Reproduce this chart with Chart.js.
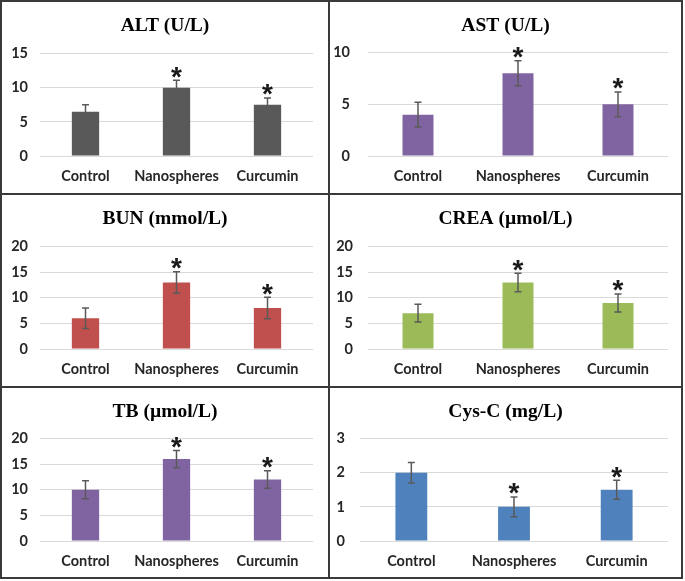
<!DOCTYPE html>
<html>
<head>
<meta charset="utf-8">
<script src="https://cdn.jsdelivr.net/npm/chart.js@4.4.1/dist/chart.umd.min.js"></script>
<style>
  body { margin: 0; background: #fff; }
  #page { position: relative; width: 685px; height: 581px; }
  .line { position: absolute; background: #3a3a3a; }
  .cell { position: absolute; }
</style>
</head>
<body>
<div id="page">
  <div class="line" style="left:0;top:0;width:683px;height:2px"></div>
  <div class="line" style="left:0;top:577px;width:683px;height:2px"></div>
  <div class="line" style="left:0;top:0;width:2px;height:579px"></div>
  <div class="line" style="left:681px;top:0;width:2px;height:579px"></div>
  <div class="line" style="left:328px;top:0;width:2px;height:579px"></div>
  <div class="line" style="left:0;top:193px;width:683px;height:2px"></div>
  <div class="line" style="left:0;top:386px;width:683px;height:2px"></div>

  <div class="cell" style="left:2px;top:2px;width:326px;height:191px"><canvas id="chart1"></canvas></div>
  <div class="cell" style="left:330px;top:2px;width:351px;height:191px"><canvas id="chart2"></canvas></div>
  <div class="cell" style="left:2px;top:195px;width:326px;height:191px"><canvas id="chart3"></canvas></div>
  <div class="cell" style="left:330px;top:195px;width:351px;height:191px"><canvas id="chart4"></canvas></div>
  <div class="cell" style="left:2px;top:388px;width:326px;height:189px"><canvas id="chart5"></canvas></div>
  <div class="cell" style="left:330px;top:388px;width:351px;height:189px"><canvas id="chart6"></canvas></div>
</div>
<script>
// Data
const groups = ['Control', 'Nanospheres', 'Curcumin'];
const significant = [false, true, true];

const altValues = [6.5, 10, 7.5];
const altErrors = [1, 1.1, 1];
const astValues = [4, 8, 5];
const astErrors = [1.2, 1.2, 1.2];
const bunValues = [6, 13, 8];
const bunErrors = [2, 2.1, 2.1];
const creaValues = [7, 13, 9];
const creaErrors = [1.75, 1.8, 1.75];
const tbValues = [10, 16, 12];
const tbErrors = [1.75, 1.7, 1.7];
const cysValues = [2, 1, 1.5];
const cysErrors = [0.3, 0.29, 0.28];

const grey = '#595959';
const purple = '#8064A2';
const red = '#C0504D';
const green = '#9BBB59';
const blue = '#4F81BD';

const labelFont = { family: "'Lato', 'Open Sans', sans-serif", size: 14.5, weight: 'bold' };
const titleFont = { family: "'Liberation Serif', 'Times New Roman', serif", size: 19.5, weight: 'bold' };

// error bars + significance stars, positioned through the y scale
const errorBars = {
    id: 'errorBars',
    afterDatasetsDraw(chart, args, opts) {
        const ctx = chart.ctx;
        const yScale = chart.scales.y;
        const values = chart.data.datasets[0].data;
        ctx.save();
        chart.getDatasetMeta(0).data.forEach((bar, i) => {
            const top = yScale.getPixelForValue(values[i] + opts.errors[i]);
            const bottom = yScale.getPixelForValue(values[i] - opts.errors[i]);
            ctx.strokeStyle = '#5a5a5a';
            ctx.lineWidth = 1.5;
            ctx.beginPath();
            ctx.moveTo(bar.x, top); ctx.lineTo(bar.x, bottom);
            ctx.moveTo(bar.x - 3.5, top); ctx.lineTo(bar.x + 3.5, top);
            ctx.moveTo(bar.x - 3.5, bottom); ctx.lineTo(bar.x + 3.5, bottom);
            ctx.stroke();
            if (opts.stars[i]) {
                ctx.font = "bold 28px 'Liberation Sans', Arial, sans-serif";
                ctx.fillStyle = '#1a1a1a';
                ctx.textAlign = 'center';
                ctx.textBaseline = 'alphabetic';
                const m = ctx.measureText('*');
                ctx.fillText('*', bar.x, top - 2.5 - m.actualBoundingBoxDescent);
            }
        });
        ctx.restore();
    }
};

function makePanel(id, cfg) {
    const ctx = document.getElementById(id).getContext('2d');
    new Chart(ctx, {
        type: 'bar',
        data: {
            labels: groups,
            datasets: [{
                data: cfg.values,
                backgroundColor: cfg.color,
                barPercentage: cfg.barPct,
                categoryPercentage: 1
            }]
        },
        options: {
            responsive: true,
            maintainAspectRatio: false,
            animation: false,
            layout: { padding: 0 },
            plugins: {
                legend: { display: false },
                tooltip: { enabled: false },
                title: {
                    display: true,
                    text: cfg.title,
                    color: '#000',
                    font: titleFont,
                    padding: { top: 12.6, bottom: cfg.top - 35.4 }
                },
                errorBars: { errors: cfg.errors, stars: significant }
            },
            scales: {
                x: {
                    grid: { display: false },
                    border: { display: false },
                    ticks: { color: '#262626', font: labelFont, padding: 4 },
                    afterFit(axis) { axis.height = cfg.xHeight; }
                },
                y: {
                    min: 0,
                    max: cfg.max,
                    ticks: { stepSize: cfg.step, color: '#262626', font: labelFont, padding: cfg.tickPad },
                    grid: { color: '#d9d9d9', drawTicks: false },
                    border: { display: false },
                    afterFit(axis) { axis.width = cfg.left; }
                },
                pad: {
                    position: 'right',
                    grid: { display: false },
                    border: { display: false },
                    ticks: { display: false },
                    afterFit(axis) { axis.width = cfg.right; }
                }
            }
        },
        plugins: [errorBars]
    });
}

makePanel('chart1', { title: 'ALT (U/L)', values: altValues, errors: altErrors, color: grey,
    max: 15, step: 5, top: 51, xHeight: 37, left: 38, right: 15, tickPad: 12, barPct: 0.3 });
makePanel('chart2', { title: 'AST (U/L)', values: astValues, errors: astErrors, color: purple,
    max: 10, step: 5, top: 50, xHeight: 37, left: 38, right: 13, tickPad: 18, barPct: 0.31 });
makePanel('chart3', { title: 'BUN (mmol/L)', values: bunValues, errors: bunErrors, color: red,
    max: 20, step: 5, top: 51, xHeight: 37, left: 38, right: 15, tickPad: 12, barPct: 0.3 });
makePanel('chart4', { title: 'CREA (\u00b5mol/L)', values: creaValues, errors: creaErrors, color: green,
    max: 20, step: 5, top: 51, xHeight: 37, left: 38, right: 13, tickPad: 15, barPct: 0.31 });
makePanel('chart5', { title: 'TB (\u00b5mol/L)', values: tbValues, errors: tbErrors, color: purple,
    max: 20, step: 5, top: 50, xHeight: 36, left: 38, right: 15, tickPad: 12, barPct: 0.3 });
makePanel('chart6', { title: 'Cys-C (mg/L)', values: cysValues, errors: cysErrors, color: blue,
    max: 3, step: 1, top: 50, xHeight: 36, left: 30, right: 13, tickPad: 15, barPct: 0.31 });
</script>
</body>
</html>
